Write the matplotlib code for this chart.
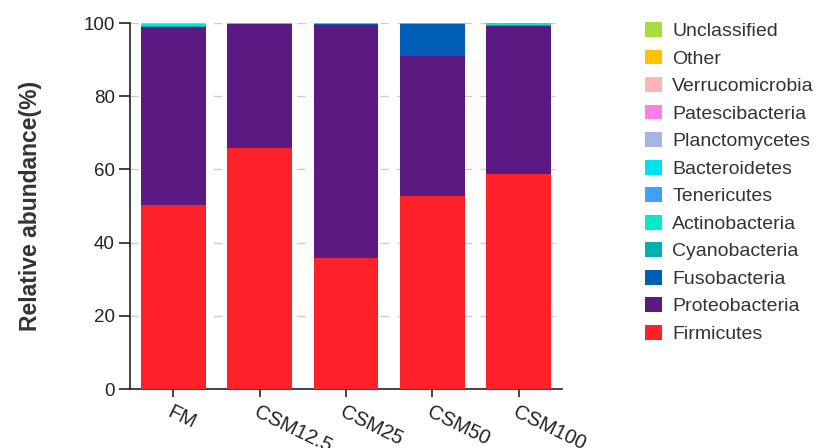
import matplotlib
matplotlib.use("Agg")
import matplotlib.pyplot as plt
from matplotlib.patches import Patch
import numpy as np

plt.rcParams['font.family'] = ['Liberation Sans', 'DejaVu Sans']

groups = ["FM", "CSM12.5", "CSM25", "CSM50", "CSM100"]

# Phyla in stacking order (bottom to top)
phyla = ["Firmicutes", "Proteobacteria", "Fusobacteria", "Cyanobacteria",
         "Actinobacteria", "Tenericutes", "Bacteroidetes", "Planctomycetes",
         "Patescibacteria", "Verrucomicrobia", "Other", "Unclassified"]

firmicutes      = [50.3, 65.8, 35.8, 52.7, 58.7]
proteobacteria  = [48.6, 33.8, 63.6, 38.3, 40.4]
fusobacteria    = [0.05, 0.05, 0.30, 8.6, 0.05]
cyanobacteria   = [0.30, 0.05, 0.05, 0.05, 0.30]
actinobacteria  = [0.35, 0.05, 0.05, 0.05, 0.30]
tenericutes     = [0.05, 0.10, 0.05, 0.10, 0.05]
bacteroidetes   = [0.20, 0.10, 0.05, 0.10, 0.10]
planctomycetes  = [0.02, 0.01, 0.01, 0.01, 0.02]
patescibacteria = [0.01, 0.01, 0.01, 0.01, 0.01]
verrucomicrobia = [0.01, 0.01, 0.01, 0.01, 0.01]
other           = [0.01, 0.01, 0.02, 0.01, 0.01]
unclassified    = [0.10, 0.01, 0.05, 0.15, 0.05]

values = [firmicutes, proteobacteria, fusobacteria, cyanobacteria,
          actinobacteria, tenericutes, bacteroidetes, planctomycetes,
          patescibacteria, verrucomicrobia, other, unclassified]

colors = ["#FF2129", "#5A1A82", "#005DB5", "#00AFAF",
          "#00EBC8", "#3FA0FF", "#00E2EE", "#A6B5E5",
          "#FF7FE8", "#FFB5B5", "#FFC300", "#A6DC3C"]

fig = plt.figure(figsize=(8.26, 4.48), dpi=100)
ax = fig.add_axes([130/826, 1 - 389/448, (562-130)/826, (389-23)/448])

x = np.arange(len(groups))
bottom = np.zeros(len(groups))
for name, vals, c in zip(phyla, values, colors):
    ax.bar(x, vals, width=0.75, bottom=bottom, color=c, edgecolor='none',
           label=name, zorder=3)
    bottom += np.array(vals)

ax.set_xlim(-0.5, 4.5)
ax.set_ylim(0, 100)
ax.set_yticks([0, 20, 40, 60, 80, 100])
ax.yaxis.grid(True, linestyle=(0, (6, 6)), color='#cccccc', linewidth=1.0, zorder=0)
ax.set_axisbelow(True)

for s in ['top', 'right']:
    ax.spines[s].set_visible(False)
for s in ['left', 'bottom']:
    ax.spines[s].set_color('#222222')
    ax.spines[s].set_linewidth(1.2)

ax.tick_params(axis='y', direction='out', length=8, width=1.2, color='#222222',
               labelsize=13.5, labelcolor='#222222', pad=3)
ax.tick_params(axis='x', direction='out', length=6, width=1.2, color='#222222',
               labelsize=14.5, labelcolor='#222222', pad=4)
ax.set_xticks(x)
ax.set_xticklabels(groups, rotation=-26, ha='left', va='top',
                   rotation_mode='anchor')

ax.set_ylabel("Relative abundance(%)", fontsize=16.5, fontweight='bold',
              color='#333333', labelpad=30)

handles = [Patch(facecolor=c, edgecolor='none', label=n)
           for n, c in zip(phyla, colors)][::-1]
fig.legend(handles=handles, loc='upper left',
           bbox_to_anchor=(645/826, 1 - 22/448), frameon=False,
           fontsize=14, handlelength=0.85, handleheight=0.8,
           handletextpad=0.55, labelspacing=0.48, labelcolor='#333333',
           borderaxespad=0, borderpad=0)

fig.savefig("out.png", dpi=100)
